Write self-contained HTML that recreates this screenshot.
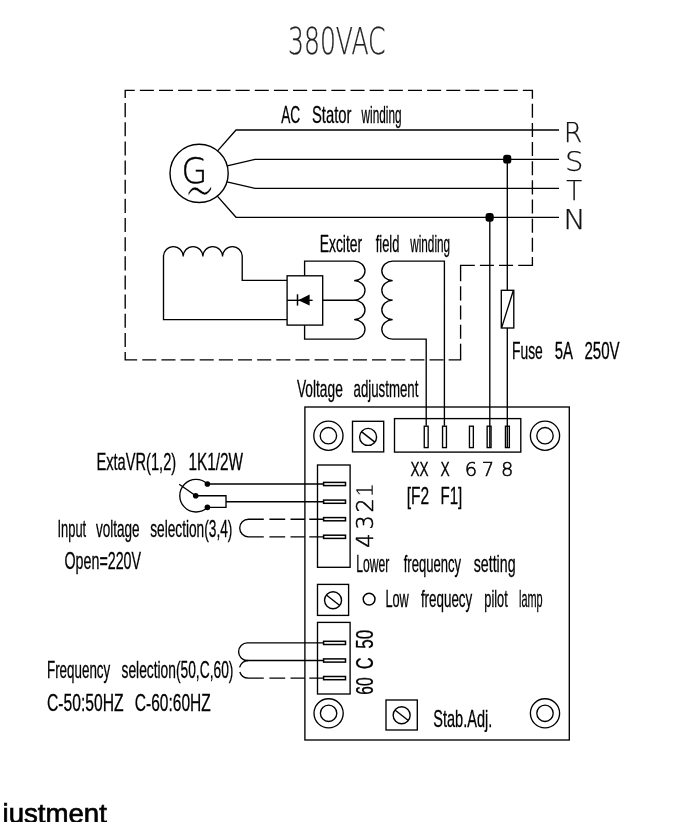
<!DOCTYPE html>
<html lang="en"><head><meta charset="utf-8"><title>AVR wiring diagram 380VAC</title>
<style>
html,body{margin:0;padding:0;background:#fff;}
body{width:696px;height:822px;overflow:hidden;font-family:"Liberation Sans",sans-serif;}
svg{display:block;will-change:transform;}
text{white-space:pre;}
text.s.g{fill:#000;stroke:#000;stroke-width:0.45px;}
text.c{stroke:#000;stroke-width:0.3px;}
text.s.d{fill:#000;stroke:#000;stroke-width:0.55px;}
text.one{stroke:#fff;stroke-width:0.5px;}
text.w{font-family:"DejaVu Sans Light","Liberation Sans",sans-serif;fill:#000;stroke:#fff;stroke-width:0.3px;}
text.t{font-family:"DejaVu Sans Light","Liberation Sans",sans-serif;fill:#222;stroke:#222;stroke-width:0.25px;}
text.s{font-family:"DejaVu Sans Light","Liberation Sans",sans-serif;fill:#111;stroke:#111;stroke-width:0.25px;}
</style></head><body>
<svg width="696" height="822" viewBox="0 0 696 822">
<g fill="none" stroke="#000" stroke-width="1.35" stroke-linecap="butt" stroke-linejoin="miter">
<path d="M124.55,90.3 L134.76,90.3 M139.84,90.3 L153.91,90.3 M158.99,90.3 L173.06,90.3 M178.14,90.3 L192.21,90.3 M197.29,90.3 L211.36,90.3 M216.44,90.3 L230.51,90.3 M235.59,90.3 L249.66,90.3 M254.74,90.3 L268.81,90.3 M273.89,90.3 L287.96,90.3 M293.04,90.3 L307.11,90.3 M312.19,90.3 L326.26,90.3 M331.34,90.3 L345.41,90.3 M350.49,90.3 L364.56,90.3 M369.64,90.3 L383.71,90.3 M388.79,90.3 L402.86,90.3 M407.94,90.3 L422.01,90.3 M427.09,90.3 L441.16,90.3 M446.24,90.3 L460.31,90.3 M465.39,90.3 L479.46,90.3 M484.54,90.3 L498.61,90.3 M503.69,90.3 L517.76,90.3 M522.84,90.3 L533.05,90.3 M125.2,89.65 L125.2,98.04 M125.2,103.12 L125.2,117.19 M125.2,122.27 L125.2,136.34 M125.2,141.41 L125.2,155.49 M125.2,160.56 L125.2,174.63 M125.2,179.71 L125.2,193.78 M125.2,198.86 L125.2,212.93 M125.2,218.01 L125.2,232.08 M125.2,237.16 L125.2,251.24 M125.2,256.31 L125.2,270.38 M125.2,275.46 L125.2,289.54 M125.2,294.62 L125.2,308.69 M125.2,313.76 L125.2,327.84 M125.2,332.92 L125.2,346.99 M125.2,352.07 L125.2,360.45 M532.4,89.65 L532.4,98.66 M532.4,103.74 L532.4,117.81 M532.4,122.89 L532.4,136.96 M532.4,142.04 L532.4,156.11 M532.4,161.19 L532.4,175.26 M532.4,180.34 L532.4,194.41 M532.4,199.49 L532.4,213.56 M532.4,218.64 L532.4,232.71 M532.4,237.79 L532.4,251.86 M532.4,256.94 L532.4,265.95 M533.05,265.3 L518.19,265.3 M513.11,265.3 L499.04,265.3 M493.96,265.3 L479.89,265.3 M474.81,265.3 L459.95,265.3 M460.6,264.65 L460.6,281.29 M460.6,286.37 L460.6,300.44 M460.6,305.51 L460.6,319.58 M460.6,324.67 L460.6,338.74 M460.6,343.81 L460.6,360.45 M124.55,359.8 L137.16,359.8 M142.24,359.8 L156.31,359.8 M161.39,359.8 L175.46,359.8 M180.54,359.8 L194.61,359.8 M199.69,359.8 L213.76,359.8 M218.84,359.8 L232.91,359.8 M237.99,359.8 L252.06,359.8 M257.14,359.8 L271.21,359.8 M276.29,359.8 L290.36,359.8 M295.44,359.8 L309.51,359.8 M314.59,359.8 L328.66,359.8 M333.74,359.8 L347.81,359.8 M352.89,359.8 L366.96,359.8 M372.04,359.8 L386.11,359.8 M391.19,359.8 L405.26,359.8 M410.34,359.8 L424.41,359.8 M429.49,359.8 L443.56,359.8 M448.64,359.8 L461.25,359.8" />
<circle cx="199.1" cy="173.4" r="29.1" stroke-width='1.4' />
<path d="M217.58,150.92 L236,130 H559" />
<path d="M227.2,165.82 L255,159.3 H559" />
<path d="M226.95,181.83 L255,188.3 H559" />
<path d="M217.32,196.09 L236,217.3 H559" />
<line x1="507.3" y1="159.3" x2="507.3" y2="290.3" />
<rect x="501.3" y="290.3" width="12.5" height="37.7" />
<line x1="501.7" y1="327.6" x2="513.4" y2="290.2" />
<line x1="507.3" y1="328" x2="507.3" y2="447.5" />
<line x1="489.8" y1="217.3" x2="489.8" y2="447.5" />
<rect x="503.1" y="154.8" width="8.2" height="8.8" rx="3" ry="3.2" fill="#000" stroke="none"/>
<rect x="485.5" y="213.0" width="8.2" height="8.8" rx="3" ry="3.2" fill="#000" stroke="none"/>
<path d="M287.1,319.6 H163.5 V256.6 A9.84,10.0 0 0 1 183.18,256.6 A9.84,10.0 0 0 1 202.86,256.6 A9.84,10.0 0 0 1 222.54,256.6 A9.84,10.0 0 0 1 242.22,256.6 V280.3 H287.1" />
<rect x="287.1" y="275.8" width="35.6" height="49.3" />
<line x1="287.1" y1="300.3" x2="312.6" y2="300.3" />
<line x1="297.5" y1="294.3" x2="297.5" y2="305.6" stroke-width='1.5' />
<polygon points="298.2,300.3 309.6,294.6 309.6,305.6" fill="#000" stroke="none"/>
<line x1="322.7" y1="300.2" x2="354.6" y2="300.2" />
<path d="M304.6,275.8 V261.1 H354.1 A10.9,9.75 0 0 1 354.1,280.6 A10.9,9.75 0 0 1 354.1,300.1 A10.9,9.75 0 0 1 354.1,319.6 A10.9,9.75 0 0 1 354.1,339.1 H304.6 V325.1" />
<path d="M444.4,425.8 V261.1 H392.7 A10.9,9.75 0 0 0 392.7,280.6 A10.9,9.75 0 0 0 392.7,300.1 A10.9,9.75 0 0 0 392.7,319.6 A10.9,9.75 0 0 0 392.7,339.1 H426.2 V425.8" />
<rect x="304.9" y="407" width="264.4" height="333" />
<circle cx="328.4" cy="435.7" r="14.6" />
<circle cx="328.4" cy="435.7" r="8.2" />
<circle cx="545" cy="435.7" r="14.6" />
<circle cx="545" cy="435.7" r="8.2" />
<circle cx="328.6" cy="713.3" r="14.6" />
<circle cx="328.6" cy="713.3" r="8.2" />
<circle cx="545" cy="713.3" r="14.6" />
<circle cx="545" cy="713.3" r="8.2" />
<rect x="352.5" y="421.3" width="31.2" height="30.6" />
<circle cx="368.1" cy="436.9" r="8.5" stroke-width='1.4' />
<line x1="361.4" y1="431.67" x2="374.8" y2="442.13" stroke-width='1.4' />
<rect x="317.5" y="584.4" width="31.1" height="31.0" />
<circle cx="333.05" cy="600.2" r="8.5" stroke-width='1.4' />
<line x1="326.35" y1="594.97" x2="339.75" y2="605.43" stroke-width='1.4' />
<rect x="386" y="700" width="31.3" height="30" />
<circle cx="401.65" cy="715.3" r="8.5" stroke-width='1.4' />
<line x1="394.95" y1="710.07" x2="408.35" y2="720.53" stroke-width='1.4' />
<rect x="394.5" y="418.6" width="126.3" height="33.5" />
<rect x="424.25" y="426.2" width="3.9" height="21.4" />
<rect x="442.55" y="426.2" width="3.9" height="21.4" />
<rect x="469.45" y="426.2" width="3.9" height="21.4" />
<rect x="487.15" y="426.2" width="3.9" height="21.4" />
<rect x="505.45" y="426.2" width="3.9" height="21.4" />
<rect x="317.5" y="465" width="32.6" height="102.3" />
<rect x="323.6" y="482.4" width="21.9" height="3.2" stroke-width='1.5' />
<rect x="323.6" y="500.1" width="21.9" height="3.2" stroke-width='1.5' />
<rect x="323.6" y="517.6" width="21.9" height="3.2" stroke-width='1.5' />
<rect x="323.6" y="535.2" width="21.9" height="3.2" stroke-width='1.5' />
<rect x="317.5" y="622.4" width="32.6" height="71.6" />
<rect x="323.6" y="641.3" width="21.9" height="3.2" stroke-width='1.5' />
<rect x="323.6" y="658.9" width="21.9" height="3.2" stroke-width='1.5' />
<rect x="323.6" y="676.5" width="21.9" height="3.2" stroke-width='1.5' />
<circle cx="369.1" cy="599.1" r="5.9" stroke-width='1.5' />
<path d="M207.4,483.95 A16.3,16.3 0 1 0 207.4,507.4" />
<line x1="179.2" y1="484.2" x2="195.7" y2="495.7" />
<path d="M195.7,495.7 H226.0 V507.4 H207.4" />
<line x1="207.4" y1="483.95" x2="323.6" y2="483.95" />
<line x1="226.0" y1="501.7" x2="323.6" y2="501.7" />
<circle cx="207.4" cy="483.95" r="2.8" fill="#000" stroke="none"/>
<circle cx="195.7" cy="495.7" r="2.8" fill="#000" stroke="none"/>
<circle cx="207.4" cy="507.4" r="2.8" fill="#000" stroke="none"/>
<path d="M263.8,519.2 H248.5 A8.8,8.8 0 0 0 248.5,536.8 H263.8 M269.4,519.2 H285.2 M290.5,519.2 H304.8 M309.3,519.2 H323.6 M269.4,536.8 H285.2 M290.5,536.8 H304.8 M309.3,536.8 H323.6 " />
<path d="M323.6,642.9 H247.4 A8.8,8.8 0 0 0 247.4,660.5 H323.6" />
<path d="M248.2,660.5 A8.8,8.8 0 0 0 239.59,667.47 M239.83,672.02 A8.8,8.8 0 0 0 248.2,678.1 H263.8 M269.4,678.1 H285.2 M290.5,678.1 H304.8 M309.3,678.1 H323.6 " />
</g>
<g fill="#000" stroke="none" opacity="0.999" font-family='"Liberation Sans", sans-serif'>
<text class="t" x="288.0" y="54.4" font-size="36.8" textLength="97.6" lengthAdjust="spacingAndGlyphs" >380VAC</text>
<text class="s" x="563.7" y="141.6" font-size="26" textLength="18.5" lengthAdjust="spacingAndGlyphs" >R</text>
<text class="s" x="564.95" y="170.6" font-size="26" textLength="18.5" lengthAdjust="spacingAndGlyphs" >S</text>
<text class="s" x="566.3" y="199.6" font-size="26" textLength="15.85" lengthAdjust="spacingAndGlyphs" >T</text>
<text class="s" x="563.2" y="228.6" font-size="26" textLength="22.5" lengthAdjust="spacingAndGlyphs" >N</text>
<text class="s g" x="181.6" y="182.8" font-size="35.6" textLength="25.8" lengthAdjust="spacingAndGlyphs" >G</text>
<text class="w" transform="translate(184.4,213.05) scale(0.91,1.74)" x="0" y="0" font-size="40">~</text>
<text class="c" x="281.2" y="122.6" font-size="23.2" textLength="19.0" lengthAdjust="spacingAndGlyphs" >AC</text>
<text class="c" x="312" y="122.6" font-size="23.2" textLength="39.5" lengthAdjust="spacingAndGlyphs" >Stator</text>
<text class="c" x="361.6" y="122.6" font-size="23.2" textLength="40.0" lengthAdjust="spacingAndGlyphs" >winding</text>
<text class="c" x="319.7" y="251.8" font-size="23.2" textLength="42.5" lengthAdjust="spacingAndGlyphs" >Exciter</text>
<text class="c" x="375.7" y="251.8" font-size="23.2" textLength="23.7" lengthAdjust="spacingAndGlyphs" >field</text>
<text class="c" x="410.2" y="251.8" font-size="23.2" textLength="39.9" lengthAdjust="spacingAndGlyphs" >winding</text>
<text class="c" x="512" y="359.2" font-size="23.2" textLength="30.8" lengthAdjust="spacingAndGlyphs" >Fuse</text>
<text class="c" x="554.7" y="359.2" font-size="23.2" textLength="18.3" lengthAdjust="spacingAndGlyphs" >5A</text>
<text class="c" x="584.4" y="359.2" font-size="23.2" textLength="35.2" lengthAdjust="spacingAndGlyphs" >250V</text>
<text class="c" x="296.9" y="397.4" font-size="23.2" textLength="45.9" lengthAdjust="spacingAndGlyphs" >Voltage</text>
<text class="c" x="353.5" y="397.4" font-size="23.2" textLength="64.9" lengthAdjust="spacingAndGlyphs" >adjustment</text>
<text class="c" x="96.4" y="469.9" font-size="23.2" textLength="79.8" lengthAdjust="spacingAndGlyphs" >ExtaVR(1,2)</text>
<text class="c" x="188.4" y="469.9" font-size="23.2" textLength="54.5" lengthAdjust="spacingAndGlyphs" >1K1/2W</text>
<text class="c" x="57.5" y="537.2" font-size="23.2" textLength="28.7" lengthAdjust="spacingAndGlyphs" >Input</text>
<text class="c" x="95.9" y="537.2" font-size="23.2" textLength="43.7" lengthAdjust="spacingAndGlyphs" >voltage</text>
<text class="c" x="150.2" y="537.2" font-size="23.2" textLength="82.2" lengthAdjust="spacingAndGlyphs" >selection(3,4)</text>
<text class="c" x="64.5" y="568.8" font-size="23.2" textLength="76.5" lengthAdjust="spacingAndGlyphs" >Open=220V</text>
<text class="c" x="47" y="678.4" font-size="23.2" textLength="63.2" lengthAdjust="spacingAndGlyphs" >Frequency</text>
<text class="c" x="121.5" y="678.4" font-size="23.2" textLength="111.9" lengthAdjust="spacingAndGlyphs" >selection(50,C,60)</text>
<text class="c" x="47" y="710.5" font-size="23.2" textLength="76.6" lengthAdjust="spacingAndGlyphs" >C-50:50HZ</text>
<text class="c" x="134.8" y="710.5" font-size="23.2" textLength="76.0" lengthAdjust="spacingAndGlyphs" >C-60:60HZ</text>
<text class="c" x="410.5" y="476.3" font-size="20.5" textLength="18.1" lengthAdjust="spacingAndGlyphs" >XX</text>
<text class="c" x="440.6" y="476.3" font-size="20.5" textLength="9.2" lengthAdjust="spacingAndGlyphs" >X</text>
<text class="s d" x="464.7" y="476.3" font-size="19.6" textLength="12.4" lengthAdjust="spacingAndGlyphs" >6</text>
<text class="s d" x="481.7" y="476.3" font-size="19.6" textLength="12.4" lengthAdjust="spacingAndGlyphs" >7</text>
<text class="s d" x="500.90000000000003" y="476.3" font-size="19.6" textLength="12.4" lengthAdjust="spacingAndGlyphs" >8</text>
<text class="c" x="406.7" y="503.6" font-size="23.2" textLength="22.4" lengthAdjust="spacingAndGlyphs" >[F2</text>
<text class="c" x="440.5" y="503.6" font-size="23.2" textLength="21.8" lengthAdjust="spacingAndGlyphs" >F1]</text>
<text class="c" x="356.2" y="572.1" font-size="23.2" textLength="33.0" lengthAdjust="spacingAndGlyphs" >Lower</text>
<text class="c" x="403.7" y="572.1" font-size="23.2" textLength="57.3" lengthAdjust="spacingAndGlyphs" >frequency</text>
<text class="c" x="473.7" y="572.1" font-size="23.2" textLength="41.9" lengthAdjust="spacingAndGlyphs" >setting</text>
<text class="c" x="385.4" y="606.9" font-size="23.2" textLength="23.4" lengthAdjust="spacingAndGlyphs" >Low</text>
<text class="c" x="420.9" y="606.9" font-size="23.2" textLength="51.3" lengthAdjust="spacingAndGlyphs" >frequecy</text>
<text class="c" x="484.3" y="606.9" font-size="23.2" textLength="23.5" lengthAdjust="spacingAndGlyphs" >pilot</text>
<text class="c" x="519" y="606.9" font-size="23.2" textLength="23.6" lengthAdjust="spacingAndGlyphs" >lamp</text>
<text class="c" x="433.3" y="726.6" font-size="23.2" textLength="59.0" lengthAdjust="spacingAndGlyphs" >Stab.Adj.</text>
<text class="s d" transform="translate(372.7,540.6) rotate(-90)" x="0" y="0" font-size="22.3" text-anchor="middle">4</text>
<text class="s d" transform="translate(372.7,522.5) rotate(-90)" x="0" y="0" font-size="22.3" text-anchor="middle">3</text>
<text class="s d" transform="translate(372.7,505.4) rotate(-90)" x="0" y="0" font-size="22.3" text-anchor="middle">2</text>
<text class="one" transform="translate(372.7,490.2) rotate(-90)" x="0" y="0" font-size="23.2" text-anchor="middle">1</text>
<text class="c" transform="translate(372.7,694.8) rotate(-90)" x="0" y="0" font-size="23.2" textLength="17.4" lengthAdjust="spacingAndGlyphs">60</text>
<text class="c" transform="translate(372.7,669.2) rotate(-90)" x="0" y="0" font-size="23.2" textLength="11.8" lengthAdjust="spacingAndGlyphs">C</text>
<text class="c" transform="translate(372.7,648.8) rotate(-90)" x="0" y="0" font-size="23.2" textLength="19.0" lengthAdjust="spacingAndGlyphs">50</text>
</g>
<text x="2.5" y="823.1" font-family='"Liberation Sans", sans-serif' font-size="28.2" fill="#000" stroke="#000" stroke-width="0.7" textLength="104.4" lengthAdjust="spacingAndGlyphs">justment</text>
</svg>
</body></html>
